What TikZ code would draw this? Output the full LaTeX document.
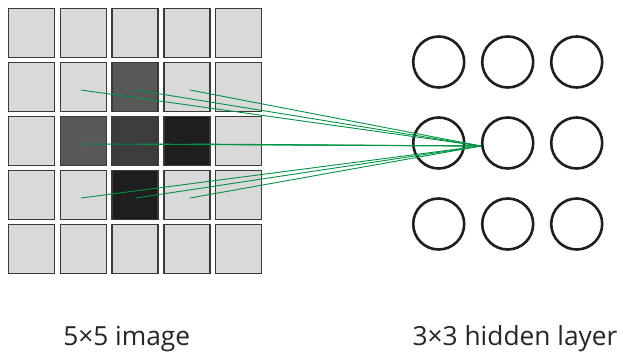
\documentclass[tikz,border=0pt]{standalone}
\usepackage{fontspec}
\setmainfont{Open Sans}
\definecolor{cellgray}{HTML}{D9D9D9}
\definecolor{cellline}{HTML}{3A3A3A}
\definecolor{dkA}{HTML}{585858}
\definecolor{dkB}{HTML}{3C3C3C}
\definecolor{dkC}{HTML}{1E1E1E}
\definecolor{linkgreen}{HTML}{009245}
\begin{document}
\begin{tikzpicture}[x=1pt,y=-1pt,
  cell/.style={draw=cellline,line width=1.4pt,fill=cellgray,minimum width=46pt,minimum height=49pt,inner sep=0pt,outer sep=0pt},
  unit/.style={circle,draw=black!88,line width=2.6pt,minimum size=51pt,inner sep=0pt},
  link/.style={linkgreen,line width=0.9pt},
  lbl/.style={font=\fontsize{26.3}{31}\selectfont,text=black!85,anchor=base}]
\useasboundingbox (0,0) rectangle (623,352);
% grid of pixels
\foreach \r in {1,...,5}{
  \foreach \c in {1,...,5}{
    \node[cell] (c-\r-\c) at ({31.5+51.8*(\c-1)},{33+54*(\r-1)}) {};
  }
}
\node[cell,fill=dkA] at (c-2-3) {};
\node[cell,fill=dkA] at (c-3-2) {};
\node[cell,fill=dkB] at (c-3-3) {};
\node[cell,fill=dkC] at (c-3-4) {};
\node[cell,fill=dkC] at (c-4-3) {};
% hidden units
\foreach \r in {1,2,3}{
  \foreach \c in {1,2,3}{
    \node[unit] (h-\r-\c) at ({438.7+69*(\c-1)},{62+81*(\r-1)}) {};
  }
}
% connections
\coordinate (e) at ([yshift=-3pt]h-2-2.west);
\foreach \r/\y in {2/90,3/144,4/198}{
  \foreach \c/\x in {2/81,3/136,4/190}{
    \coordinate (s-\r-\c) at (\x,\y);
    \draw[link] (s-\r-\c) -- (e);
  }
}
% labels
\node[lbl] (l1) at (126.7,345) {5×5 image};
\node[lbl] (l2) at (515,345) {3×3 hidden layer};
\end{tikzpicture}
\end{document}
